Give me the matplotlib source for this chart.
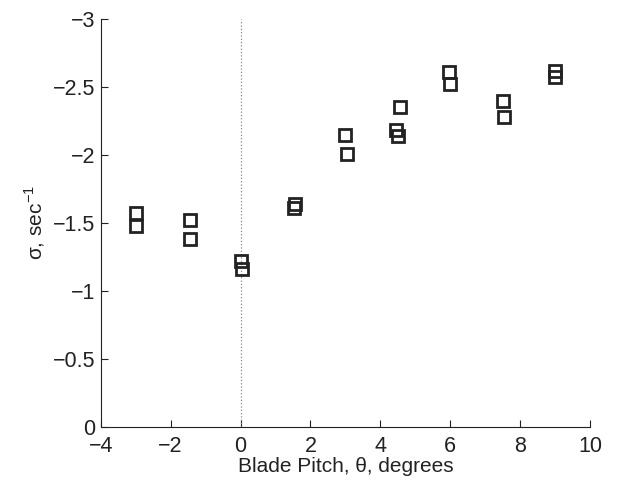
import matplotlib
matplotlib.use('Agg')
import matplotlib.pyplot as plt

plt.rcParams['font.family'] = ['Liberation Sans', 'DejaVu Sans']
plt.rcParams['mathtext.fontset'] = 'custom'
plt.rcParams['mathtext.rm'] = 'Liberation Sans'

# blade pitch (deg) and measured sigma (1/sec)
pitch = [-3.0, -3.0, -1.45, -1.45, 0.0, 0.05, 1.56, 1.54, 3.0, 3.04,
         4.55, 4.45, 4.5, 5.96, 6.0, 7.5, 7.54, 9.0, 9.0]
sigma = [-1.57, -1.48, -1.52, -1.38, -1.22, -1.16, -1.64, -1.61, -2.15, -2.01,
         -2.35, -2.18, -2.14, -2.61, -2.52, -2.40, -2.28, -2.62, -2.57]

fig = plt.figure(figsize=(6.3, 4.84), dpi=100)
ax = fig.add_axes([0.16, 0.1184, 0.7765, 0.8423])

ax.plot([0, 0], [0, -3], ':', color='#888888', lw=0.9)
ax.plot(pitch, sigma, 's', ms=8.5, mfc='none', mec='#222222', mew=2.0)

ax.set_xlim(-4, 10)
ax.set_ylim(0, -3)
ax.set_xticks(range(-4, 11, 2))
ax.set_yticks([0, -0.5, -1, -1.5, -2, -2.5, -3])
ax.set_yticklabels(['0', '\u22120.5', '\u22121', '\u22121.5', '\u22122', '\u22122.5', '\u22123'])
ax.set_xticklabels(['\u22124', '\u22122', '0', '2', '4', '6', '8', '10'])

ax.spines['top'].set_visible(False)
ax.spines['right'].set_visible(False)
ax.spines['left'].set_color('#222222')
ax.spines['bottom'].set_color('#222222')
ax.tick_params(direction='in', length=5, labelsize=15.5, width=0.8, colors='#222222')
ax.tick_params(axis='y', pad=4)
ax.tick_params(axis='x', pad=7)
ax.set_xlabel('Blade Pitch, \u03b8, degrees', fontsize=15, labelpad=0, color='#222222')
ax.set_ylabel('\u03c3, sec$^{-1}$', fontsize=15, labelpad=4, color='#222222')

fig.savefig('out.png', dpi=100)
